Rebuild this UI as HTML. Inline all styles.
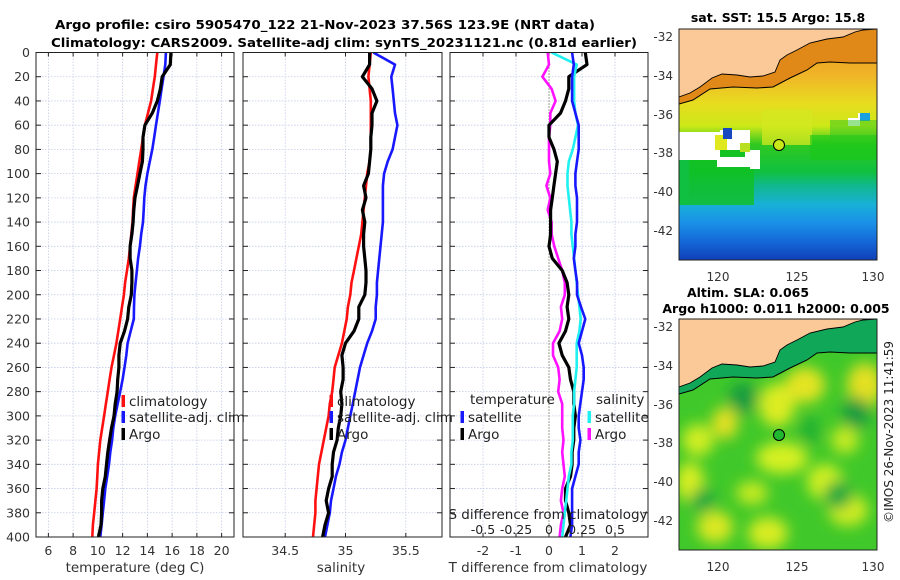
<!DOCTYPE html>
<html><head><meta charset="utf-8">
<style>
html,body{margin:0;padding:0;background:#fff;}
svg{display:block;font-family:"DejaVu Sans","Liberation Sans",sans-serif;}
</style></head>
<body>
<svg id="fig" width="900" height="580" viewBox="0 0 900 580" xmlns="http://www.w3.org/2000/svg">
<defs>
<clipPath id="clipP1"><rect x="36" y="52" width="198" height="485"/></clipPath>
<clipPath id="clipP2"><rect x="243" y="52" width="199" height="485"/></clipPath>
<clipPath id="clipP3"><rect x="450" y="52" width="198" height="485"/></clipPath>
<clipPath id="clipM1"><rect x="679" y="29" width="198" height="231"/></clipPath>
<clipPath id="clipM2"><rect x="679" y="319" width="198" height="231"/></clipPath>
<linearGradient id="sstGrad" x1="0" y1="0" x2="0" y2="1">
<stop offset="0" stop-color="#e69a18"/>
<stop offset="0.2" stop-color="#f0b428"/>
<stop offset="0.32" stop-color="#e8dc20"/>
<stop offset="0.42" stop-color="#cce818"/>
<stop offset="0.5" stop-color="#30c820"/>
<stop offset="0.62" stop-color="#10c040"/>
<stop offset="0.68" stop-color="#10b890"/>
<stop offset="0.76" stop-color="#18b0d8"/>
<stop offset="0.84" stop-color="#1a90e8"/>
<stop offset="0.92" stop-color="#1468d8"/>
<stop offset="1" stop-color="#1040b8"/>
</linearGradient>
<filter id="blur6" x="-50%" y="-50%" width="200%" height="200%"><feGaussianBlur stdDeviation="7"/></filter>
</defs>
<g id="titles">
<text x="325" y="29" text-anchor="middle" font-size="12.5" font-weight="bold" textLength="540" lengthAdjust="spacingAndGlyphs">Argo profile: csiro 5905470_122 21-Nov-2023 37.56S 123.9E (NRT data)</text>
<text x="344" y="47" text-anchor="middle" font-size="12.5" font-weight="bold" textLength="586" lengthAdjust="spacingAndGlyphs">Climatology: CARS2009. Satellite-adj clim: synTS_20231121.nc (0.81d earlier)</text>
</g>
<g id="panels"></g>
<g id="maps">
<text x="778" y="22" text-anchor="middle" font-size="12.5" font-weight="bold">sat. SST: 15.5 Argo: 15.8</text>
<g clip-path="url(#clipM1)">
<rect x="679" y="29" width="198" height="231" fill="url(#sstGrad)"/>
<rect x="679" y="150" width="75" height="55" fill="#10c020" opacity="0.8"/>
<rect x="679" y="150" width="10" height="55" fill="#10c040"/>
<rect x="679" y="132" width="41" height="28" fill="#ffffff"/>
<rect x="720" y="130" width="30" height="20" fill="#ffffff"/>
<rect x="717" y="157" width="33" height="10" fill="#ffffff"/>
<rect x="745" y="150" width="15" height="13" fill="#ffffff"/>
<rect x="750" y="163" width="10" height="6" fill="#ffffff"/>
<rect x="715" y="135" width="12" height="15" fill="#e0e820"/>
<rect x="723" y="128" width="9" height="11" fill="#1848c0"/>
<rect x="740" y="143" width="10" height="9" fill="#b8e020"/>
<rect x="848" y="118" width="12" height="8" fill="#ffffff"/>
<rect x="858" y="113" width="10" height="6" fill="#ffffff"/>
<rect x="860" y="113" width="10" height="8" fill="#18a0e0"/>
<rect x="762" y="110" width="50" height="35" fill="#d4e820" opacity="0.75"/>
<rect x="810" y="135" width="67" height="25" fill="#18c818" opacity="0.6"/>
<rect x="830" y="120" width="47" height="20" fill="#30c820" opacity="0.5"/>
<path d="M679,97 L690,93 L700,87 L712,78 L722,74 L737,75 L750,77 L763,76 L775,72 L780,60 L787,55 L797,50 L810,43 L827,39 L843,37 L855,32 L863,30 L877,29 L877,0 L679,0 Z" fill="#fbc898"/>
<path d="M679,97 L690,93 L700,87 L712,78 L722,74 L737,75 L750,77 L763,76 L775,72 L780,60 L787,55 L797,50 L810,43 L827,39 L843,37 L855,32 L863,30 L877,29 L877,63 L850,63 L830,62 L817,63 L807,70 L790,78 L773,87 L757,88 L733,87 L710,89 L693,100 L679,104 Z" fill="#e08818"/>
<path d="M679,97 L690,93 L700,87 L712,78 L722,74 L737,75 L750,77 L763,76 L775,72 L780,60 L787,55 L797,50 L810,43 L827,39 L843,37 L855,32 L863,30 L877,29" fill="none" stroke="#000" stroke-width="0.9"/>
<path d="M679,104 L693,100 L710,89 L733,87 L757,88 L773,87 L790,78 L807,70 L817,63 L830,62 L850,63 L877,63" fill="none" stroke="#000" stroke-width="1"/>
</g>
<circle cx="779" cy="145" r="5.5" fill="#c8e818" stroke="#000" stroke-width="1"/>
<rect x="679" y="29" width="198" height="231" fill="none" stroke="#222" stroke-width="1"/>
<g font-size="12" fill="#333" text-anchor="end">
<text x="673" y="41">-32</text><text x="673" y="80">-34</text><text x="673" y="119">-36</text><text x="673" y="157">-38</text><text x="673" y="196">-40</text><text x="673" y="235">-42</text>
</g>
<g font-size="12" fill="#333" text-anchor="middle">
<text x="718" y="281">120</text><text x="797" y="281">125</text><text x="873" y="281">130</text>
</g>
<text x="748" y="297" text-anchor="middle" font-size="12.5" font-weight="bold">Altim. SLA: 0.065</text>
<text x="776" y="313" text-anchor="middle" font-size="12.5" font-weight="bold">Argo h1000: 0.011 h2000: 0.005</text>
<g clip-path="url(#clipM2)">
<rect x="679" y="319" width="198" height="231" fill="#40c82a"/>
<g filter="url(#blur6)">
<ellipse cx="725" cy="423" rx="13" ry="16" fill="#e4e020"/>
<ellipse cx="777" cy="405" rx="18" ry="22" fill="#dcec20"/>
<ellipse cx="805" cy="385" rx="20" ry="18" fill="#e4e420"/>
<ellipse cx="865" cy="385" rx="18" ry="22" fill="#e4e020"/>
<ellipse cx="698" cy="440" rx="16" ry="16" fill="#d0ee20"/>
<ellipse cx="782" cy="458" rx="26" ry="16" fill="#d4f020"/>
<ellipse cx="825" cy="482" rx="18" ry="18" fill="#d0f020"/>
<ellipse cx="690" cy="482" rx="14" ry="20" fill="#d8ee20"/>
<ellipse cx="715" cy="527" rx="18" ry="16" fill="#dce820"/>
<ellipse cx="768" cy="533" rx="20" ry="16" fill="#d8ec20"/>
<ellipse cx="848" cy="510" rx="20" ry="16" fill="#d0ec20"/>
<ellipse cx="752" cy="493" rx="16" ry="12" fill="#c4ea20"/>
<ellipse cx="845" cy="440" rx="14" ry="14" fill="#c4ea20"/>
<ellipse cx="743" cy="398" rx="14" ry="16" fill="#189c40"/>
<ellipse cx="856" cy="413" rx="14" ry="16" fill="#189c40"/>
<ellipse cx="838" cy="495" rx="14" ry="14" fill="#18a840"/>
<ellipse cx="703" cy="500" rx="12" ry="12" fill="#18a840"/>
<ellipse cx="810" cy="430" rx="10" ry="14" fill="#20b030"/>
</g>
<path d="M679,387 L690,383 L700,377 L712,368 L722,364 L737,365 L750,367 L763,366 L775,362 L780,350 L787,345 L797,340 L810,333 L827,329 L843,327 L855,322 L863,320 L877,319 L877,353 L850,353 L830,352 L817,353 L807,360 L790,368 L773,377 L757,378 L733,377 L710,379 L693,390 L679,394 Z" fill="#10a858"/>
<path d="M679,387 L690,383 L700,377 L712,368 L722,364 L737,365 L750,367 L763,366 L775,362 L780,350 L787,345 L797,340 L810,333 L827,329 L843,327 L855,322 L863,320 L877,319 L877,290 L679,290 Z" fill="#fbc898"/>
<path d="M679,387 L690,383 L700,377 L712,368 L722,364 L737,365 L750,367 L763,366 L775,362 L780,350 L787,345 L797,340 L810,333 L827,329 L843,327 L855,322 L863,320 L877,319" fill="none" stroke="#000" stroke-width="0.9"/>
<path d="M679,394 L693,390 L710,379 L733,377 L757,378 L773,377 L790,368 L807,360 L817,353 L830,352 L850,353 L877,353" fill="none" stroke="#000" stroke-width="1"/>
</g>
<circle cx="779" cy="435" r="5.5" fill="#20b830" stroke="#000" stroke-width="1"/>
<rect x="679" y="319" width="198" height="231" fill="none" stroke="#222" stroke-width="1"/>
<g font-size="12" fill="#333" text-anchor="end">
<text x="673" y="331">-32</text><text x="673" y="370">-34</text><text x="673" y="409">-36</text><text x="673" y="447">-38</text><text x="673" y="486">-40</text><text x="673" y="525">-42</text>
</g>
<g font-size="12" fill="#333" text-anchor="middle">
<text x="718" y="571">120</text><text x="797" y="571">125</text><text x="873" y="571">130</text>
</g>
<text transform="translate(893,432) rotate(-90)" text-anchor="middle" font-size="12" fill="#222">©IMOS 26-Nov-2023 11:41:59</text>
</g>
</svg>
<script>
const depths = [0,10,20,30,40,50,60,70,80,90,100,110,120,130,140,150,160,170,180,190,200,210,220,230,240,250,260,270,280,290,300,310,320,330,340,350,360,370,380,390,400];
const climT = [14.8,14.7,14.6,14.45,14.3,14.05,13.8,13.65,13.5,13.35,13.2,13.05,12.9,12.85,12.8,12.7,12.6,12.5,12.35,12.2,12.1,11.95,11.8,11.65,11.5,11.3,11.1,10.95,10.8,10.65,10.5,10.35,10.2,10.1,10.0,9.95,9.9,9.8,9.7,9.6,9.55];
const satT = [15.5,15.45,15.3,15.15,15.0,14.85,14.7,14.55,14.4,14.2,14.0,13.85,13.75,13.7,13.65,13.5,13.4,13.25,13.15,13.05,12.95,12.92,12.9,12.65,12.4,12.3,12.15,12.0,11.8,11.6,11.4,11.25,11.15,11.0,10.9,10.75,10.6,10.5,10.4,10.3,10.2];
const argoT = [15.9,15.85,15.2,15.05,14.8,14.4,13.8,13.65,13.65,13.6,13.4,13.2,13.0,12.9,12.85,12.75,12.6,12.6,12.75,12.75,12.7,12.5,12.4,12.15,11.8,11.7,11.7,11.6,11.55,11.4,11.3,11.1,10.95,10.8,10.7,10.6,10.4,10.3,10.3,10.25,10.05];
const climS = [35.21,35.2,35.19,35.2,35.21,35.21,35.21,35.21,35.21,35.2,35.18,35.17,35.16,35.15,35.14,35.13,35.11,35.09,35.07,35.05,35.04,35.02,35.01,34.99,34.97,34.94,34.91,34.9,34.89,34.87,34.86,34.84,34.82,34.8,34.78,34.77,34.76,34.75,34.75,34.74,34.73];
const satS = [35.23,35.41,35.38,35.39,35.40,35.41,35.43,35.41,35.39,35.35,35.32,35.31,35.31,35.31,35.31,35.30,35.29,35.28,35.27,35.26,35.26,35.25,35.25,35.22,35.18,35.15,35.12,35.10,35.08,35.06,35.04,35.02,35.0,34.97,34.95,34.92,34.9,34.88,34.87,34.85,34.83];
const argoS = [35.2,35.2,35.14,35.22,35.26,35.22,35.22,35.21,35.21,35.2,35.19,35.15,35.17,35.14,35.16,35.15,35.15,35.16,35.17,35.17,35.16,35.11,35.11,35.07,35.0,34.97,34.98,34.98,34.96,34.97,34.96,34.94,34.93,34.9,34.89,34.89,34.86,34.84,34.86,34.83,34.81];
const depthTicks = [0,20,40,60,80,100,120,140,160,180,200,220,240,260,280,300,320,340,360,380,400];
const tempTicks = [6,8,10,12,14,16,18,20];
const salTicks = [34.5,35,35.5];
const tdiffTicks = [-2,-1,0,1,2];
const sdiffTicks = [-0.5,-0.25,0,0.25,0.5];

const NS = 'http://www.w3.org/2000/svg';
const root = document.getElementById('panels');
const Y0 = 52.5, Y1 = 537;
function yScale(d){ return Y0 + (d-0)/(400-0)*(Y1-Y0); }
function mk(tag, attrs, parent){
  const e = document.createElementNS(NS, tag);
  for (const k in attrs) e.setAttribute(k, attrs[k]);
  (parent||root).appendChild(e);
  return e;
}
const P = [
  {x0:36,x1:234,dmin:5,dmax:21,clip:'clipP1',name:'temperature-panel'},
  {x0:243,x1:442,dmin:34.15,dmax:35.8,clip:'clipP2',name:'salinity-panel'},
  {x0:450,x1:648,dmin:-3,dmax:3,clip:'clipP3',name:'difference-panel'}
];
function xs(p, v){ return p.x0 + (v-p.dmin)/(p.dmax-p.dmin)*(p.x1-p.x0); }
function xsS(p, v){ return xs(p, v*4); }

function axes(p, xticks, labelFn){
  const g = mk('g', {});
  
  
  depthTicks.forEach(d=>{
    const l = mk('line',{x1:p.x0,x2:p.x1,y1:yScale(d),y2:yScale(d),stroke:'#c4cce6','stroke-width':0.8,'stroke-dasharray':'1.5,1.5'},g);
    
    
  });
  xticks.forEach(v=>{
    const x = xs(p,v);
    const l = mk('line',{x1:x,x2:x,y1:Y0,y2:Y1,stroke:'#c4cce6','stroke-width':0.8,'stroke-dasharray':'1.5,1.5'},g);
    
    
    mk('line',{x1:x,x2:x,y1:Y1,y2:Y1-4,stroke:'#222','stroke-width':1},g);
    mk('line',{x1:x,x2:x,y1:Y0,y2:Y0+4,stroke:'#222','stroke-width':1},g);
    const t = mk('text',{x:x,y:555,'text-anchor':'middle','font-size':12.5,fill:'#333'},g);
    t.textContent = labelFn(v);
    
    
  });
  depthTicks.forEach(d=>{
    mk('line',{x1:p.x0,x2:p.x0+5,y1:yScale(d),y2:yScale(d),stroke:'#222','stroke-width':1},g);
    mk('line',{x1:p.x1,x2:p.x1-5,y1:yScale(d),y2:yScale(d),stroke:'#222','stroke-width':1},g);
  });
  return g;
}
function line(p, xfn, vals, color, w, name){
  let d = '';
  vals.forEach((v,i)=>{ d += (i?'L':'M') + xfn(p,v).toFixed(1) + ',' + yScale(depths[i]).toFixed(1); });
  const e = mk('path',{d:d,fill:'none',stroke:color,'stroke-width':w,'stroke-linejoin':'round','clip-path':'url(#'+p.clip+')'});
  
  
  return e;
}
function frame(p){
  mk('rect',{x:p.x0,y:Y0,width:p.x1-p.x0,height:Y1-Y0,fill:'none',stroke:'#222','stroke-width':1});
}
function legendEntry(x, y, color, label, name){
  const r = mk('rect',{x:x-1.5,y:y-10,width:3.5,height:12,fill:color});
  
  
  const t = mk('text',{x:x+6,y:y+1,'font-size':13.5,fill:'#222'});
  t.textContent = label;
  
  
}

depthTicks.forEach(d=>{
  const t = mk('text',{x:30,y:yScale(d)+4.5,'text-anchor':'end','font-size':12.5,fill:'#333'});
  t.textContent = d;
  
  
});

axes(P[0], tempTicks, v=>String(v));
line(P[0], xs, climT, '#ff1010', 2.6, 'temp-climatology-line');
line(P[0], xs, satT, '#1818ff', 2.6, 'temp-satellite-line');
line(P[0], xs, argoT, '#000', 3.2, 'temp-argo-line');
frame(P[0]);
legendEntry(123, 405, '#ff1010', 'climatology', 'legend-climatology');
legendEntry(123, 421, '#1818ff', 'satellite-adj. clim', 'legend-satellite');
legendEntry(123, 438, '#000', 'Argo', 'legend-argo');
let tt = mk('text',{x:135,y:572,'text-anchor':'middle','font-size':13.5,fill:'#333'});
tt.textContent = 'temperature (deg C)';



axes(P[1], salTicks, v=>String(v));
line(P[1], xs, climS, '#ff1010', 2.6, 'sal-climatology-line');
line(P[1], xs, satS, '#1818ff', 2.6, 'sal-satellite-line');
line(P[1], xs, argoS, '#000', 3.2, 'sal-argo-line');
frame(P[1]);
legendEntry(331, 405, '#ff1010', 'climatology', 'legend-climatology-sal');
legendEntry(331, 421, '#1818ff', 'satellite-adj. clim', 'legend-satellite-sal');
legendEntry(331, 438, '#000', 'Argo', 'legend-argo-sal');
tt = mk('text',{x:341,y:572,'text-anchor':'middle','font-size':13.5,fill:'#333'});
tt.textContent = 'salinity';



axes(P[2], tdiffTicks, v=>String(v));
const zl = mk('line',{x1:xs(P[2],0),x2:xs(P[2],0),y1:Y0,y2:Y1,stroke:'#555530','stroke-width':1,'stroke-dasharray':'1,2'});


const dSatT = satT.map((v,i)=>v-climT[i]);
const dArgoT = argoT.map((v,i)=>v-climT[i]);
const dSatS = satS.map((v,i)=>v-climS[i]);
const dArgoS = argoS.map((v,i)=>v-climS[i]);
line(P[2], xsS, dArgoS, '#ff10ff', 2.6, 'sdiff-argo-line');
line(P[2], xs, dArgoT, '#000', 3.2, 'tdiff-argo-line');
line(P[2], xsS, dSatS, '#20f0f0', 2.6, 'sdiff-satellite-line');
line(P[2], xs, dSatT, '#1818ff', 2.6, 'tdiff-satellite-line');
frame(P[2]);
let lt = mk('text',{x:470,y:404,'font-size':13.5,fill:'#222'});
lt.textContent = 'temperature';


legendEntry(462, 421, '#1818ff', 'satellite', 'legend-tdiff-satellite');
legendEntry(462, 438, '#000', 'Argo', 'legend-tdiff-argo');
lt = mk('text',{x:596,y:404,'font-size':13.5,fill:'#222'});
lt.textContent = 'salinity';


legendEntry(589, 421, '#20f0f0', 'satellite', 'legend-sdiff-satellite');
legendEntry(589, 438, '#ff10ff', 'Argo', 'legend-sdiff-argo');
lt = mk('text',{x:548,y:519,'text-anchor':'middle','font-size':13.5,fill:'#222'});
lt.textContent = 'S difference from climatology';


sdiffTicks.forEach(v=>{
  const t = mk('text',{x:xsS(P[2],v),y:534,'text-anchor':'middle','font-size':12.5,fill:'#222'});
  t.textContent = String(v);
  
  
});
tt = mk('text',{x:548,y:572,'text-anchor':'middle','font-size':13.5,fill:'#333'});
tt.textContent = 'T difference from climatology';


</script>
</body></html>
